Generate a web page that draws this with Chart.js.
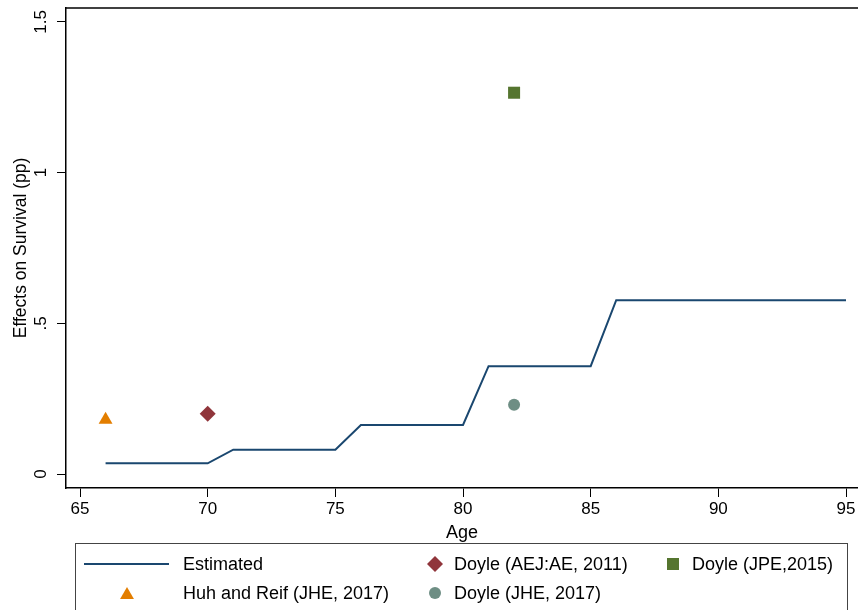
<!DOCTYPE html>
<html>
<head>
<meta charset="utf-8">
<script src="https://cdn.jsdelivr.net/npm/chart.js@4/dist/chart.umd.min.js"></script>
<style>
  html, body { margin: 0; padding: 0; background: #fff; overflow: hidden; }
  #wrap { width: 858px; height: 610px; position: relative; }
</style>
</head>
<body>
<div id="wrap"><canvas id="c" width="858" height="610"></canvas></div>
<script>
// Estimated survival effect by age (step profile)
const ages = [66, 70, 71, 75, 76, 80, 81, 85, 86, 95];
const estimated = [0.036, 0.036, 0.081, 0.081, 0.163, 0.163, 0.358, 0.358, 0.577, 0.577];

// Point estimates from earlier studies
const studyLabels = ['Doyle (AEJ:AE, 2011)', 'Doyle (JPE,2015)', 'Huh and Reif (JHE, 2017)', 'Doyle (JHE, 2017)'];
const studyAges = [70, 82, 66, 82];
const studyEffects = [0.2, 1.265, 0.18, 0.23];

const yTicks = [0, 0.5, 1, 1.5];
const yTickLabels = ['0', '.5', '1', '1.5'];
const xTicks = [65, 70, 75, 80, 85, 90, 95];

const FONT = "'Liberation Sans', Arial, Helvetica, sans-serif";
Chart.defaults.font.family = FONT;
Chart.defaults.color = '#000';

const studyStyle = [
  { color: '#90353b', pointStyle: 'rectRot', radius: 8 },
  { color: '#55752f', pointStyle: 'rect', radius: 8.5 },
  { color: '#e37e00', pointStyle: 'triangle', radius: 8 },
  { color: '#6e8e84', pointStyle: 'circle', radius: 6 }
];

const datasets = [{
  label: 'Estimated',
  type: 'line',
  data: ages.map((a, i) => ({ x: a, y: estimated[i] })),
  borderColor: '#1a476f',
  borderWidth: 2,
  pointRadius: 0,
  fill: false,
  tension: 0
}];
studyLabels.forEach((lab, i) => {
  const s = studyStyle[i];
  datasets.push({
    label: lab,
    type: 'scatter',
    data: [{ x: studyAges[i], y: studyEffects[i] }],
    pointStyle: s.pointStyle,
    pointRadius: s.radius,
    pointHoverRadius: s.radius,
    backgroundColor: s.color,
    borderColor: s.color,
    borderWidth: 0
  });
});

// Frame line on top, rotated y tick labels, and the boxed legend below the axis
const decor = {
  id: 'decor',
  afterDraw(chart) {
    const ctx = chart.ctx;
    const area = chart.chartArea;
    const ys = chart.scales.y;
    ctx.save();
    ctx.strokeStyle = '#000';
    ctx.lineWidth = 1.5;
    ctx.beginPath();
    ctx.moveTo(area.left - 0.75, area.top);
    ctx.lineTo(area.right, area.top);
    ctx.stroke();

    // y tick labels, reading bottom to top
    ctx.fillStyle = '#000';
    ctx.font = '17px ' + FONT;
    ctx.textAlign = 'center';
    ctx.textBaseline = 'middle';
    yTicks.forEach((v, i) => {
      const py = ys.getPixelForValue(v);
      ctx.save();
      ctx.translate(41, py);
      ctx.rotate(-Math.PI / 2);
      ctx.fillText(yTickLabels[i], 0, 0);
      ctx.restore();
    });

    // legend box
    ctx.strokeStyle = '#444';
    ctx.lineWidth = 1;
    ctx.strokeRect(75.5, 543.5, 772, 80);

    const rows = [564, 593];
    const slots = [
      { ds: 0, kx: 127, tx: 183, row: 0 },
      { ds: 1, kx: 435, tx: 454, row: 0 },
      { ds: 2, kx: 673, tx: 692, row: 0 },
      { ds: 3, kx: 127, tx: 183, row: 1 },
      { ds: 4, kx: 435, tx: 454, row: 1 }
    ];
    ctx.font = '18px ' + FONT;
    ctx.textAlign = 'left';
    ctx.textBaseline = 'middle';
    slots.forEach(sl => {
      const d = chart.data.datasets[sl.ds];
      const y = rows[sl.row];
      if (d.type === 'line') {
        ctx.strokeStyle = d.borderColor;
        ctx.lineWidth = d.borderWidth;
        ctx.beginPath();
        ctx.moveTo(84, y);
        ctx.lineTo(169, y);
        ctx.stroke();
      } else {
        ctx.fillStyle = d.backgroundColor;
        ctx.strokeStyle = d.borderColor;
        Chart.helpers.drawPoint(ctx, {
          pointStyle: d.pointStyle,
          radius: d.pointRadius,
          borderWidth: 0,
          rotation: 0
        }, sl.kx, y + (d.pointStyle === 'triangle' ? 2 : 0));
      }
      ctx.fillStyle = '#000';
      ctx.fillText(d.label, sl.tx, y + 1);
    });
    ctx.restore();
  }
};

new Chart(document.getElementById('c'), {
  type: 'scatter',
  data: { datasets },
  plugins: [decor],
  options: {
    responsive: false,
    animation: false,
    devicePixelRatio: 1,
    layout: { autoPadding: false, padding: { top: 8, left: 0, right: 0, bottom: 0 } },
    plugins: { legend: { display: false }, tooltip: { enabled: false } },
    scales: {
      x: {
        type: 'linear',
        min: 64.45,
        max: 95.47,
        afterFit(s) { s.height = 122; s.paddingLeft = 0; s.paddingRight = 0; },
        afterBuildTicks(s) { s.ticks = xTicks.map(v => ({ value: v })); },
        ticks: { font: { size: 17 }, padding: 2, color: '#000', maxRotation: 0 },
        grid: { drawOnChartArea: false, drawTicks: true, tickLength: 9, color: '#000', lineWidth: 1 },
        border: { display: true, color: '#000', width: 1.5 },
        title: { display: true, text: 'Age', font: { size: 18 }, padding: { top: 0, bottom: 66 }, color: '#000' }
      },
      y: {
        type: 'linear',
        min: -0.046,
        max: 1.546,
        afterFit(s) { s.width = 66; s.paddingTop = 0; s.paddingBottom = 0; },
        afterBuildTicks(s) { s.ticks = yTicks.map(v => ({ value: v })); },
        ticks: { display: false },
        grid: { drawOnChartArea: false, drawTicks: true, tickLength: 9, color: '#000', lineWidth: 1 },
        border: { display: true, color: '#000', width: 1.5 },
        title: { display: true, text: 'Effects on Survival (pp)', font: { size: 17.5 }, padding: { top: 11, bottom: 0 }, color: '#000' }
      }
    }
  }
});
</script>
</body>
</html>
